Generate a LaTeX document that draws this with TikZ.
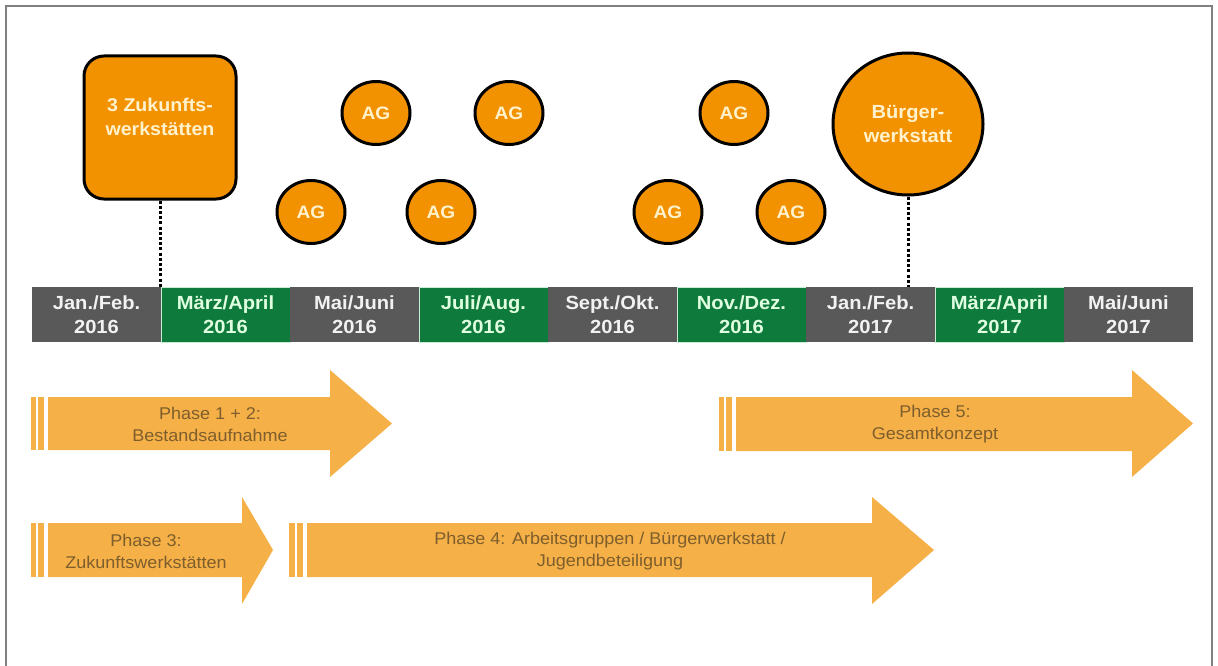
\documentclass[tikz,border=0pt]{standalone}
\usepackage{fontspec}
\setmainfont[FakeStretch=1.06]{Liberation Sans}
\usetikzlibrary{shapes.geometric}
\definecolor{bargray}{RGB}{89,89,89}
\definecolor{bargreen}{RGB}{14,122,60}
\definecolor{cellline}{RGB}{200,236,212}
\definecolor{orng}{RGB}{243,146,0}
\definecolor{lighttxt}{RGB}{255,242,204}
\definecolor{arrfill}{RGB}{245,176,72}
\definecolor{arrtxt}{RGB}{125,94,44}
\definecolor{framegray}{RGB}{128,128,128}
\tikzset{
  cellbase/.style={rectangle, minimum width=129pt, minimum height=55pt, inner sep=0pt, align=center,
    font=\fontsize{19}{24.5}\selectfont\bfseries},
  graycell/.style={cellbase, fill=bargray, text=white!95!black},
  greencell/.style={cellbase, fill=bargreen, draw=cellline, line width=1pt, text=white!88!green},
  agnode/.style={ellipse, draw=black, line width=3pt, fill=orng, minimum width=68pt, minimum height=63pt,
    inner sep=0pt, text=lighttxt, font=\fontsize{18}{22}\selectfont\bfseries},
  bignode/.style={ellipse, draw=black, line width=3pt, fill=orng, minimum width=150pt, minimum height=142pt,
    inner sep=0pt, text=lighttxt, font=\fontsize{19}{24}\selectfont\bfseries, align=center},
  boxnode/.style={rectangle, rounded corners=20pt, draw=black, line width=3pt, fill=orng,
    minimum width=152pt, minimum height=143pt, inner sep=0pt},
  boxtext/.style={text=lighttxt, font=\fontsize{18.5}{24}\selectfont\bfseries, align=center, inner sep=0pt},
  arrowbody/.style={fill=arrfill},
  arrowtext/.style={text=arrtxt, font=\fontsize{17}{22}\selectfont, align=center, inner sep=0pt},
  dotline/.style={draw=black, line width=3pt, dash pattern=on 3pt off 2.2pt}
}
\begin{document}
\begin{tikzpicture}[x=1pt,y=-1pt]
\useasboundingbox (0,0) rectangle (1218,666);
\fill[white] (0,0) rectangle (1218,666);
% frame
\draw[framegray, line width=2pt] (6,670) -- (6,6) -- (1212,6) -- (1212,670);

% timeline bar
\node[graycell]  (c1) at (96.5,314.5)  {Jan./Feb.\\2016};
\node[greencell] (c2) at (225.5,314.5) {März/April\\2016};
\node[graycell]  (c3) at (354.5,314.5) {Mai/Juni\\2016};
\node[greencell] (c4) at (483.5,314.5) {Juli/Aug.\\2016};
\node[graycell]  (c5) at (612.5,314.5) {Sept./Okt.\\2016};
\node[greencell] (c6) at (741.5,314.5) {Nov./Dez.\\2016};
\node[graycell]  (c7) at (870.5,314.5) {Jan./Feb.\\2017};
\node[greencell] (c8) at (999.5,314.5) {März/April\\2017};
\node[graycell]  (c9) at (1128.5,314.5) {Mai/Juni\\2017};

% Zukunftswerkstätten box
\node[boxnode] (zw) at (160,127.5) {};
\node[boxtext] (zwt) at (160,117) {3 Zukunfts-\\werkstätten};
\draw[dotline] (zw.south) -- (zw.south |- c2.north);

% AG circles
\node[agnode] (ag1) at (376,113) {AG};
\node[agnode] (ag2) at (509,113) {AG};
\node[agnode] (ag3) at (734,113) {AG};
\node[agnode] (ag4) at (311,212) {AG};
\node[agnode] (ag5) at (441,212) {AG};
\node[agnode] (ag6) at (668,212) {AG};
\node[agnode] (ag7) at (791,212) {AG};

% Bürgerwerkstatt
\node[bignode] (bw) at (908,124) {Bürger-\\werkstatt};
\draw[dotline] (bw.south) -- (bw.south |- c7.north);

% Phase 1+2 arrow
\fill[arrowbody] (31,397) rectangle (36,450);
\fill[arrowbody] (38,397) rectangle (44,450);
\fill[arrowbody] (48,397) -- (330,397) -- (330,370) -- (392,423.5) -- (330,477) -- (330,450) -- (48,450) -- cycle;
\node[arrowtext] (p12) at (210,424) {Phase 1 + 2:\\Bestandsaufnahme};

% Phase 5 arrow
\fill[arrowbody] (719,397) rectangle (724,451);
\fill[arrowbody] (726,397) rectangle (732,451);
\fill[arrowbody] (736,397) -- (1132,397) -- (1132,370) -- (1193,423.5) -- (1132,477) -- (1132,451) -- (736,451) -- cycle;
\node[arrowtext] (p5) at (935,424) {Phase 5:\\Gesamtkonzept};

% Phase 3 arrow
\fill[arrowbody] (31,523) rectangle (36,577);
\fill[arrowbody] (38,523) rectangle (44,577);
\fill[arrowbody] (48,523) -- (242,523) -- (242,497) -- (273,550) -- (242,604) -- (242,577) -- (48,577) -- cycle;
\node[arrowtext] (p3) at (146,551) {Phase 3:\\Zukunftswerkstätten};

% Phase 4 arrow
\fill[arrowbody] (289,523) rectangle (295,577);
\fill[arrowbody] (297,523) rectangle (303,577);
\fill[arrowbody] (307,523) -- (872,523) -- (872,497) -- (934,550) -- (872,604) -- (872,577) -- (307,577) -- cycle;
\node[arrowtext] (p4) at (610,551) {Phase 4: Arbeitsgruppen / Bürgerwerkstatt /\\Jugendbeteiligung};
\end{tikzpicture}
\end{document}
